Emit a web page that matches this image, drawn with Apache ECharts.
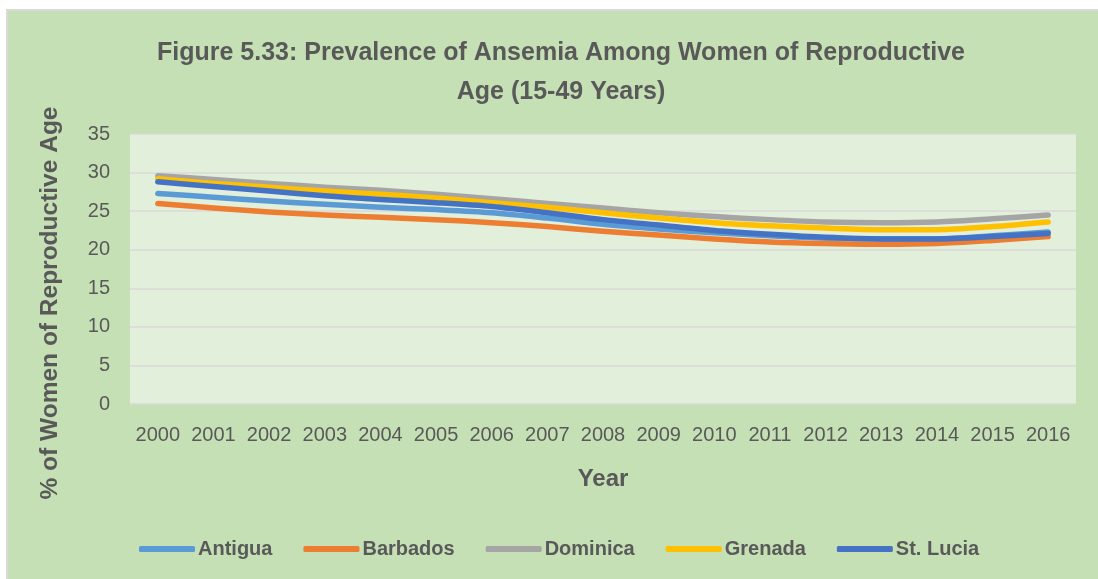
<!DOCTYPE html>
<html>
<head>
<meta charset="utf-8">
<script src="https://cdn.jsdelivr.net/npm/echarts@6/dist/echarts.min.js"></script>
<style>
  html, body { margin: 0; padding: 0; background: #ffffff; }
  #bg { position: absolute; left: 6px; top: 9px; width: 1092px; height: 570px;
        background: #C5E0B4; border-top: 2px solid #D9D9D9; border-left: 2px solid #D9D9D9; box-sizing: border-box; }
  #chart { position: absolute; left: 0; top: 0; width: 1098px; height: 579px; }
</style>
</head>
<body>
<div id="bg"></div>
<div id="chart"></div>
<script>
const years = ['2000','2001','2002','2003','2004','2005','2006','2007','2008','2009','2010','2011','2012','2013','2014','2015','2016'];
const antigua  = [27.3, 26.8, 26.3, 25.9, 25.5, 25.2, 24.8, 24.1, 23.3, 22.7, 22.2, 21.8, 21.5, 21.4, 21.4, 21.8, 22.3];
const barbados = [26.0, 25.4, 24.9, 24.5, 24.2, 23.9, 23.5, 23.0, 22.4, 21.9, 21.4, 21.0, 20.8, 20.7, 20.8, 21.2, 21.7];
const dominica = [29.6, 29.1, 28.6, 28.1, 27.7, 27.2, 26.6, 26.0, 25.4, 24.8, 24.3, 23.9, 23.6, 23.5, 23.6, 24.0, 24.5];
const grenada  = [29.2, 28.6, 28.1, 27.6, 27.2, 26.7, 26.1, 25.5, 24.8, 24.1, 23.5, 23.1, 22.8, 22.6, 22.6, 23.0, 23.6];
const stlucia  = [28.8, 28.2, 27.6, 27.0, 26.5, 26.1, 25.6, 24.8, 23.9, 23.2, 22.5, 22.0, 21.6, 21.4, 21.4, 21.7, 22.1];
const seriesNames = ['Antigua', 'Barbados', 'Dominica', 'Grenada', 'St. Lucia'];
const seriesData = [antigua, barbados, dominica, grenada, stlucia];
const colors = ['#5B9BD5', '#ED7D31', '#A5A5A5', '#FFC000', '#4472C4'];

const textColor = '#595959';
const font = 'Liberation Sans';

const chart = echarts.init(document.getElementById('chart'), null, { renderer: 'canvas' });
chart.setOption({
  backgroundColor: 'transparent',
  animation: false,
  color: colors,
  title: {
    text: 'Figure 5.33: Prevalence of Ansemia Among Women of Reproductive\nAge (15-49 Years)',
    left: 556,
    textAlign: 'center',
    top: 29,
    textStyle: { fontFamily: font, fontSize: 25, fontWeight: 'bold', color: textColor, lineHeight: 39 }
  },
  legend: {
    data: seriesNames,
    left: 134,
    top: 534,
    icon: 'roundRect',
    itemWidth: 56,
    itemHeight: 6,
    itemGap: 31,
    textStyle: { fontFamily: font, fontSize: 20, fontWeight: 'bold', color: textColor, padding: [0, 0, 0, -2] }
  },
  grid: {
    left: 130, right: 22, top: 134, bottom: 175,
    show: true, backgroundColor: '#E2EFDA', borderWidth: 0
  },
  xAxis: {
    type: 'category',
    data: years,
    boundaryGap: true,
    axisLine: { show: false },
    axisTick: { show: false },
    axisLabel: { interval: 0, margin: 21, fontFamily: font, fontSize: 20, color: textColor },
    name: 'Year',
    nameLocation: 'middle',
    nameGap: 63,
    nameTextStyle: { fontFamily: font, fontSize: 24, fontWeight: 'bold', color: textColor }
  },
  yAxis: {
    type: 'value',
    min: 0, max: 35, interval: 5,
    axisLine: { show: false },
    axisTick: { show: false },
    splitLine: { lineStyle: { color: '#D9D9D9', width: 1.5 } },
    axisLabel: { margin: 20, fontFamily: font, fontSize: 20, color: textColor }
  },
  graphic: [{
    type: 'text',
    x: 50, y: 303,
    rotation: Math.PI / 2,
    style: {
      text: '% of Women of Reproductive Age',
      fontFamily: font, fontSize: 24.5, fontWeight: 'bold', fill: textColor,
      align: 'center', verticalAlign: 'middle'
    }
  }],
  series: seriesNames.map((n, i) => ({
    name: n,
    type: 'line',
    data: seriesData[i],
    smooth: 0.3,
    symbol: 'none',
    lineStyle: { width: 5.5, color: colors[i], cap: 'round', join: 'round' },
    itemStyle: { color: colors[i] }
  }))
});
</script>
</body>
</html>
